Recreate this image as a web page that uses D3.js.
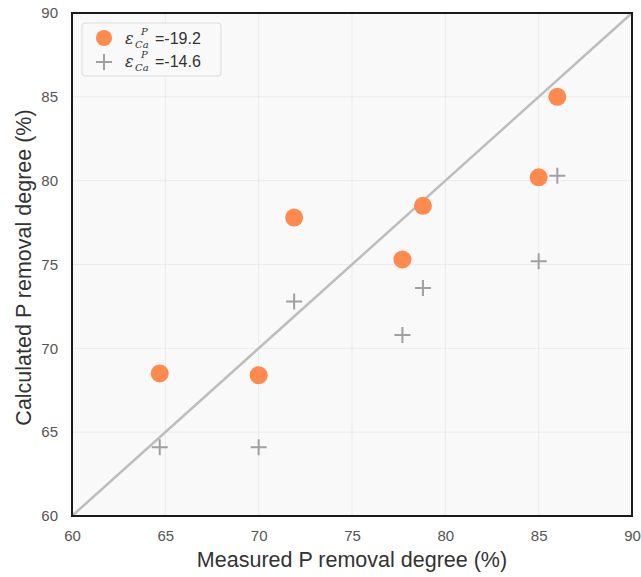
<!doctype html>
<html>
<head>
<meta charset="utf-8">
<title>P removal</title>
<script src="https://cdn.jsdelivr.net/npm/d3@7"></script>
<style>
*{margin:0;padding:0;}
body{background:white;font-family:"Liberation Sans",Arial,sans-serif;}
</style>
</head>
<body>
<script>
// measured vs calculated P removal
var measured = [64.7, 70.0, 71.9, 77.7, 78.8, 85.0, 86.0];
var calcA = [68.5, 68.4, 77.8, 75.3, 78.5, 80.2, 85.0];   // eps = -19.2
var calcB = [64.1, 64.1, 72.8, 70.8, 73.6, 75.2, 80.3];   // eps = -14.6
var ticks = [60, 65, 70, 75, 80, 85, 90];
var legendVals = ["-19.2", "-14.6"];

var W = 641, H = 577;
var m = {l:72, r:9, t:13, b:61};
var svg = d3.select("body").append("svg").attr("width", W).attr("height", H);

var x = d3.scaleLinear().domain([60, 90]).range([m.l, W - m.r]);
var y = d3.scaleLinear().domain([60, 90]).range([H - m.b, m.t]);

svg.append("rect").attr("x", m.l).attr("y", m.t)
  .attr("width", W - m.r - m.l).attr("height", H - m.b - m.t)
  .attr("fill", "#f9f9f9");

// grid
svg.append("g").selectAll("line").data(ticks.slice(1, -1)).enter().append("line")
  .attr("x1", d => x(d)).attr("x2", d => x(d)).attr("y1", m.t).attr("y2", H - m.b)
  .attr("stroke", "#ebebeb").attr("stroke-width", 1);
svg.append("g").selectAll("line").data(ticks.slice(1, -1)).enter().append("line")
  .attr("y1", d => y(d)).attr("y2", d => y(d)).attr("x1", m.l).attr("x2", W - m.r)
  .attr("stroke", "#ebebeb").attr("stroke-width", 1);

// axes
var xa = svg.append("g").attr("transform", "translate(0," + (H - m.b) + ")")
  .call(d3.axisBottom(x).tickValues(ticks).tickSize(0).tickPadding(14));
var ya = svg.append("g").attr("transform", "translate(" + m.l + ",0)")
  .call(d3.axisLeft(y).tickValues(ticks).tickSize(0).tickPadding(14));
[xa, ya].forEach(function(a){
  a.select(".domain").remove();
  a.selectAll("text").attr("font-size", 15).attr("fill", "#555")
    .attr("font-family", "Liberation Sans, Arial, sans-serif");
});

// 1:1 line
svg.append("line").attr("x1", x(60)).attr("y1", y(60)).attr("x2", x(90)).attr("y2", y(90))
  .attr("stroke", "#bdbdbd").attr("stroke-width", 2.5);

var dataA = measured.map((d, i) => [d, calcA[i]]);
var dataB = measured.map((d, i) => [d, calcB[i]]);

svg.append("g").selectAll("circle").data(dataA).enter().append("circle")
  .attr("cx", d => x(d[0])).attr("cy", d => y(d[1])).attr("r", 9)
  .attr("fill", "#ff8a50");

function cross(g, cx, cy, s){
  g.append("path").attr("d", "M" + (cx - s) + "," + cy + "H" + (cx + s) + "M" + cx + "," + (cy - s) + "V" + (cy + s))
    .attr("stroke", "#a0a0a0").attr("stroke-width", 2).attr("fill", "none");
}
var gB = svg.append("g");
dataB.forEach(d => cross(gB, x(d[0]), y(d[1]), 8));

// frame
svg.append("rect").attr("x", m.l).attr("y", m.t)
  .attr("width", W - m.r - m.l).attr("height", H - m.b - m.t)
  .attr("fill", "none").attr("stroke", "#1a1a1a").attr("stroke-width", 2);

// legend
var lg = svg.append("g");
lg.append("rect").attr("x", 82).attr("y", 23).attr("width", 139).attr("height", 53).attr("rx", 3)
  .attr("fill", "#f9f9f9").attr("stroke", "#dcdcdc").attr("stroke-width", 1);
lg.append("circle").attr("cx", 104).attr("cy", 38).attr("r", 8).attr("fill", "#ff8a50");
cross(lg, 104, 62, 8);
legendVals.forEach(function(v, i){
  var by = 44 + i * 23;
  var t = lg.append("text").attr("x", 125).attr("y", by)
    .attr("font-size", 16).attr("fill", "#333");
  t.append("tspan").attr("font-style", "italic").attr("font-family", "DejaVu Serif, serif").attr("font-size", 16).text("ε");
  t.append("tspan").attr("font-style", "italic").attr("font-family", "DejaVu Serif, serif").attr("font-size", 10)
    .attr("x", 141).attr("y", by - 9).text("P");
  t.append("tspan").attr("font-style", "italic").attr("font-family", "DejaVu Serif, serif").attr("font-size", 10)
    .attr("x", 135).attr("y", by + 4).text("Ca");
  t.append("tspan").attr("x", 155).attr("y", by).text("=" + v);
});

// titles
svg.append("text").attr("x", (m.l + W - m.r) / 2).attr("y", 567).attr("text-anchor", "middle")
  .attr("font-size", 21.5).attr("fill", "#333").text("Measured P removal degree (%)");
svg.append("text").attr("transform", "translate(31," + ((m.t + H - m.b) / 2 + 3) + ") rotate(-90)")
  .attr("text-anchor", "middle").attr("font-size", 21.5).attr("fill", "#333")
  .text("Calculated P removal degree (%)");
</script>
</body>
</html>
